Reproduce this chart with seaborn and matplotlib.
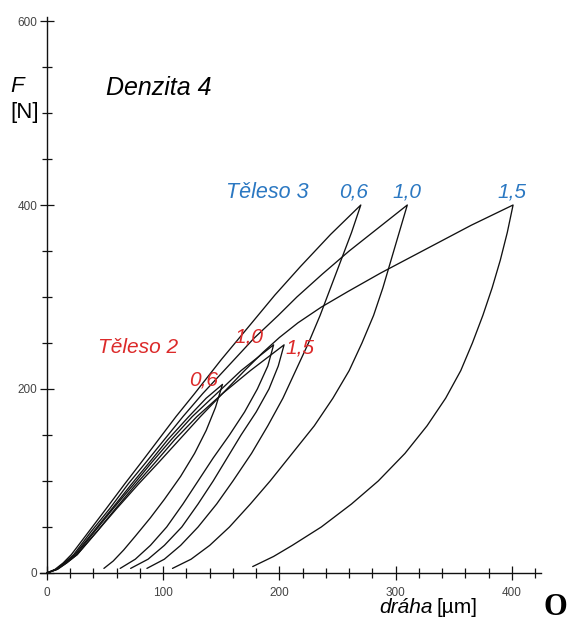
import numpy as np
import pandas as pd
import matplotlib
matplotlib.use("Agg")
import matplotlib.pyplot as plt
import seaborn as sns

# Force-displacement curves (dráha in µm, F in N): loading branch from the
# origin up to the peak, then the unloading branch down to the residual depth.

# Těleso 2, 0,6
t2_06_x = [0, 8, 15, 24, 40, 56, 73, 88, 104, 122, 137, 151,
           145, 137, 127, 115, 101, 89, 76, 66, 57, 49]
t2_06_f = [0, 4, 11, 20, 45, 70, 97, 120, 145, 170, 190, 205,
           180, 155, 130, 105, 80, 60, 40, 25, 13, 5]

# Těleso 2, 1,0
t2_10_x = [0, 8, 16, 25, 41, 57, 75, 90, 107, 125, 146, 167, 195,
           190, 181, 170, 157, 143, 130, 117, 103, 89, 76, 63]
t2_10_f = [0, 4, 11, 20, 45, 70, 97, 120, 145, 170, 195, 220, 248,
           225, 200, 175, 150, 125, 100, 75, 50, 30, 15, 5]

# Těleso 2, 1,5
t2_15_x = [0, 9, 17, 26, 43, 59, 77, 93, 110, 129, 151, 175, 204,
           199, 191, 180, 167, 155, 143, 130, 116, 101, 87, 72]
t2_15_f = [0, 4, 11, 20, 45, 70, 97, 120, 145, 170, 195, 220, 248,
           225, 200, 175, 150, 125, 100, 75, 50, 30, 15, 5]

# Těleso 3, 0,6
t3_06_x = [0, 7, 14, 21, 36, 51, 67, 81, 96, 111, 127, 150, 175, 196, 218, 244, 270,
           262, 253, 244, 235, 225, 214, 203, 190, 176, 160, 146, 130, 115, 101, 86]
t3_06_f = [0, 4, 11, 20, 45, 70, 97, 120, 145, 170, 195, 232, 270, 302, 333, 368, 400,
           370, 340, 310, 280, 250, 220, 190, 160, 130, 100, 75, 50, 30, 15, 5]

# Těleso 3, 1,0
t3_10_x = [0, 8, 15, 23, 38, 54, 70, 85, 101, 117, 134, 156, 178, 199, 215, 237, 260, 285, 310,
           303, 296, 289, 281, 271, 260, 246, 230, 211, 192, 175, 157, 140, 124, 108]
t3_10_f = [0, 4, 11, 20, 45, 70, 97, 120, 145, 170, 195, 225, 255, 280, 300, 325, 350, 375, 400,
           370, 340, 310, 280, 250, 220, 190, 160, 130, 100, 75, 50, 30, 15, 5]

# Těleso 3, 1,5
t3_15_x = [0, 9, 17, 26, 43, 60, 79, 96, 114, 132, 151, 170, 186, 200, 216, 236, 259, 287, 329, 365, 401,
           396, 390, 383, 375, 366, 356, 343, 327, 308, 285, 262, 236, 211, 195, 177]
t3_15_f = [0, 4, 11, 20, 45, 70, 97, 120, 145, 170, 195, 220, 240, 256, 272, 289, 306, 326, 354, 378, 400,
           370, 340, 310, 280, 250, 220, 190, 160, 130, 100, 75, 50, 30, 18, 7]

curves = {
    "T2 0,6": (t2_06_x, t2_06_f),
    "T2 1,0": (t2_10_x, t2_10_f),
    "T2 1,5": (t2_15_x, t2_15_f),
    "T3 0,6": (t3_06_x, t3_06_f),
    "T3 1,0": (t3_10_x, t3_10_f),
    "T3 1,5": (t3_15_x, t3_15_f),
}

# Curve labels: (text, x, F)
teleso2_labels = [("0,6", 135, 210), ("1,0", 174, 257), ("1,5", 218, 245)]
teleso3_labels = [("0,6", 264, 414), ("1,0", 310, 414), ("1,5", 400, 414)]

x_major = [0, 100, 200, 300, 400]
y_major = [0, 200, 400, 600]

frames = []
for name, (xs, fs) in curves.items():
    frames.append(pd.DataFrame({"draha": xs, "F": fs, "curve": name}))
df = pd.concat(frames, ignore_index=True)

sns.set_style("white")
plt.rcParams["font.family"] = ["Liberation Sans", "DejaVu Sans"]
plt.rcParams["text.color"] = "black"

fig = plt.figure(figsize=(5.67, 6.21), dpi=100)
ax = fig.add_axes([0.0705, 0.0773, 0.8836, 0.8948])

sns.lineplot(data=df, x="draha", y="F", units="curve", estimator=None, sort=False,
             color="#111111", linewidth=0.95, legend=False, ax=ax)

ax.set_xlim(-6, 425)
ax.set_ylim(0, 604)
ax.spines["left"].set_position(("data", 0))
ax.spines["right"].set_visible(False)
ax.spines["top"].set_visible(False)
for s in ("left", "bottom"):
    ax.spines[s].set_color("#111111")
    ax.spines[s].set_linewidth(1.0)

ax.set_xticks(x_major)
ax.set_xticks(np.arange(20, 425, 20), minor=True)
ax.set_yticks(y_major)
ax.set_yticks(np.arange(50, 600, 50), minor=True)
ax.tick_params(which="both", bottom=True, left=True, direction="inout",
               color="#111111", width=0.9, labelsize=8.5, labelcolor="#444444")
ax.tick_params(which="major", length=10)
ax.tick_params(which="minor", length=7)
ax.tick_params(axis="x", which="major", pad=5)
ax.tick_params(axis="y", which="major", pad=2)
ax.set_xlabel("")
ax.set_ylabel("")

# Panel texts
ax.text(51, 527, "Denzita 4", fontsize=18, style="italic",
        ha="left", va="center")
ax.text(190, 414, "Těleso 3", fontsize=15.5, style="italic", color="#2b78c2",
        ha="center", va="center")
for txt, x, f in teleso3_labels:
    ax.text(x, f, txt, fontsize=15, style="italic", color="#2b78c2",
            ha="center", va="center")
ax.text(78, 245, "Těleso 2", fontsize=15, style="italic", color="#dc2a2a",
        ha="center", va="center")
for txt, x, f in teleso2_labels:
    ax.text(x, f, txt, fontsize=15, style="italic", color="#dc2a2a",
            ha="center", va="center")

# Axis titles
fig.text(0.030, 0.860, "F", fontsize=16, style="italic", ha="center", va="center")
fig.text(0.044, 0.8196, "[N]", fontsize=16, ha="center", va="center")
fig.text(0.763, 0.0225, "dráha", fontsize=15, style="italic", ha="right", va="center")
fig.text(0.770, 0.0225, "[µm]", fontsize=15, ha="left", va="center")
fig.text(0.979, 0.021, "O", fontsize=22, fontweight="bold",
         family=["Liberation Serif", "DejaVu Serif"], ha="center", va="center")

fig.savefig("out.png", dpi=100)
